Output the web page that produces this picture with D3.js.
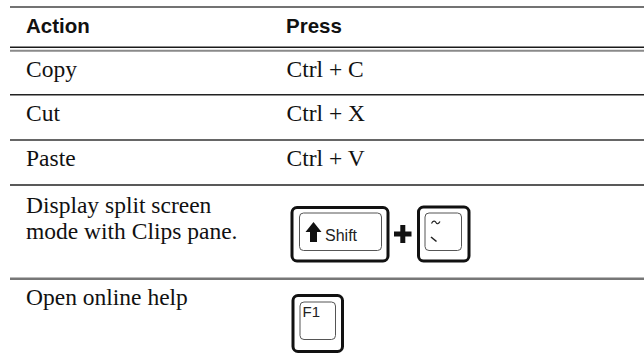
<!DOCTYPE html>
<html><head><meta charset="utf-8">
<script src="https://cdn.jsdelivr.net/npm/d3@7"></script>
<style>html,body{margin:0;padding:0;background:#fff;}svg{display:block;}</style>
</head><body><div id="chart"></div>
<script>
const headers = ["Action", "Press"];
const actions = ["Copy", "Cut", "Paste", "Display split screen\nmode with Clips pane.", "Open online help"];
const presses = ["Ctrl + C", "Ctrl + X", "Ctrl + V", "KEYS:Shift+~", "KEYS:F1"];
const rowTops = [50.5, 94.5, 140, 185, 279];
const baselines = [77, 121, 166, 213, 305];

const W = 644, H = 364;
const svg = d3.select("#chart").append("svg").attr("width", W).attr("height", H);
const x0 = 10, colA = 26, colP = 286;
const sans = "Liberation Sans, Arial, Helvetica, sans-serif";
const serif = "Liberation Serif, Times New Roman, serif";

function rule(y, color, w) {
  svg.append("line").attr("x1", x0).attr("x2", W).attr("y1", y).attr("y2", y).attr("stroke", color).attr("stroke-width", w);
}
rule(7, "#444", 1.5);
rule(47.3, "#1a1a1a", 1.5);
rule(50.7, "#8a8a8a", 2);
rule(94.7, "#222", 1.5);
rule(140, "#333", 1.5);
rule(185, "#222", 1.5);
rule(278.8, "#777", 2.5);

// header
svg.selectAll("text.h").data(headers).join("text").attr("class", "h")
  .attr("x", (d, i) => i ? colP : colA).attr("y", 32.5)
  .attr("font-family", sans).attr("font-weight", "bold").attr("font-size", 20.5).attr("fill", "#111")
  .text(d => d);

const fs = 23.5;
actions.forEach((a, i) => {
  const lines = a.split("\n");
  const t = svg.append("text").attr("x", colA).attr("y", baselines[i]).attr("font-family", serif).attr("font-size", fs).attr("fill", "#111");
  lines.forEach((l, j) => t.append("tspan").attr("x", colA).attr("dy", j ? 26 : 0).text(l));
  const p = presses[i];
  if (!p.startsWith("KEYS")) {
    svg.append("text").attr("x", colP + 0.5).attr("y", baselines[i]).attr("font-family", serif).attr("font-size", fs).attr("fill", "#111").text(p);
  }
});

function key(g, x1, y1, x2, y2, ix1, iy1, ix2, iy2) {
  g.append("rect").attr("x", x1).attr("y", y1).attr("width", x2 - x1).attr("height", y2 - y1).attr("rx", 5)
    .attr("fill", "#fff").attr("stroke", "#111").attr("stroke-width", 3);
  g.append("rect").attr("x", ix1).attr("y", iy1).attr("width", ix2 - ix1).attr("height", iy2 - iy1).attr("rx", 4)
    .attr("fill", "none").attr("stroke", "#555").attr("stroke-width", 1);
}
const g = svg.append("g");
// Shift key
key(g, 292, 207.5, 388, 261, 299.5, 213, 381.5, 250.5);
g.append("path").attr("d", "M313.5,222 L321.5,232 L317,232 L317,242 L310,242 L310,232 L305.5,232 Z").attr("fill", "#111");
g.append("text").attr("x", 325).attr("y", 240.5).attr("font-family", sans).attr("font-size", 16).attr("fill", "#222").text("Shift");
// plus
g.append("rect").attr("x", 394).attr("y", 231.5).attr("width", 17.5).attr("height", 5).attr("fill", "#111");
g.append("rect").attr("x", 400.3).attr("y", 225).attr("width", 5).attr("height", 18).attr("fill", "#111");
// tilde key
key(g, 418.5, 207, 469, 261, 425, 213, 461.5, 250.5);
g.append("path").attr("d", "M431.5,223.5 C433,220.5 435,220.5 436,222.5 C437,224.5 438.5,224 440,221.5").attr("fill", "none").attr("stroke", "#222").attr("stroke-width", 1.2);
g.append("path").attr("d", "M431,237 L436.5,241.5").attr("stroke", "#222").attr("stroke-width", 1.6);
// F1 key
key(g, 293, 295.5, 342.5, 351.5, 300, 302, 335.5, 339.5);
g.append("text").attr("x", 302.5).attr("y", 316.8).attr("font-family", sans).attr("font-size", 15).attr("fill", "#222").text("F1");
</script></body></html>
